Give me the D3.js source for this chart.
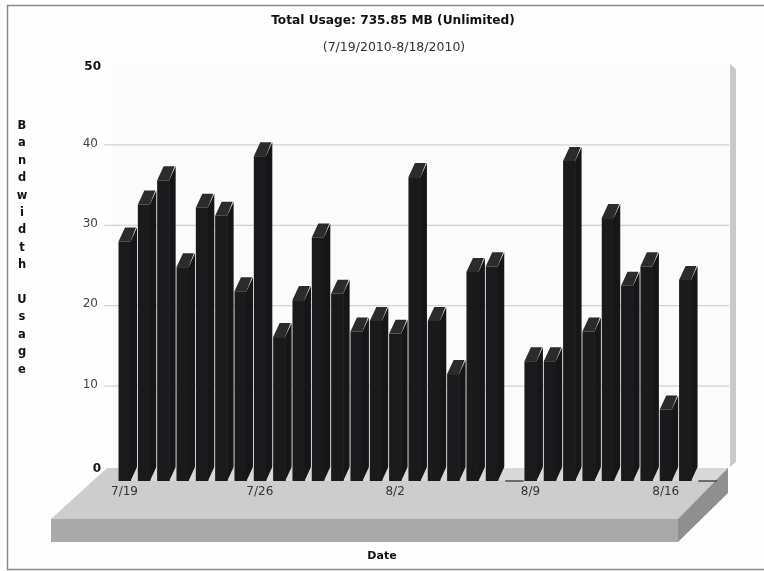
<!DOCTYPE html>
<html><head><meta charset="utf-8">
<script src="https://cdn.jsdelivr.net/npm/d3@7"></script>
<style>html,body{margin:0;padding:0;background:#fefefe}svg{display:block;filter:blur(0.5px)}text{font-family:"DejaVu Sans",sans-serif}</style>
</head><body><svg id="c" width="764" height="571"></svg>
<script>
const dates=["7/19","7/20","7/21","7/22","7/23","7/24","7/25","7/26","7/27","7/28","7/29","7/30","7/31","8/1","8/2","8/3","8/4","8/5","8/6","8/7","8/8","8/9","8/10","8/11","8/12","8/13","8/14","8/15","8/16","8/17","8/18"];
const usage=[29.8,34.4,37.4,26.6,34,33,23.6,40.4,17.9,22.5,30.3,23.3,18.6,19.9,18.3,37.8,19.9,13.3,26,26.7,0,14.9,14.9,39.8,18.6,32.7,24.3,26.7,8.9,25,0];
const labelledDates=["7/19","7/26","8/2","8/9","8/16"];
const yTicks=[0,10,20,30,40,50];
const titleText="Total Usage: 735.85 MB (Unlimited)";
const subtitleText="(7/19/2010-8/18/2010)";
const yTitle="Bandwidth Usage";
const xTitle="Date";

const svg=d3.select("#c");
const step=19.33,left=118.5,barW=12,dx=6.5,dy=14;
const x=d3.scalePoint().domain(dates).range([left,left+step*30]);
const y=d3.scaleLinear().domain([0,50]).range([467,65]);
const poly=p=>p.map(a=>a.join(",")).join(" ");

// frame
svg.append("path").attr("d","M764,5.5H7.5V569.5H764").attr("fill","none").attr("stroke","#8a8a8a").attr("stroke-width",1.5);

// back wall and right side
svg.append("rect").attr("x",112).attr("y",y(50)).attr("width",618).attr("height",y(0)-y(50)).attr("fill","#fbfbfb");
svg.append("polygon").attr("points",poly([[730,y(0)],[730,y(50)-1],[736,y(50)+4],[736,y(0)-5]])).attr("fill","#c9c9c9");

// floor
const fl={bl:[107,468],br:[728,468],fr:[678,519],fl:[51,519]};
svg.append("polygon").attr("points",poly([fl.bl,fl.br,fl.fr,fl.fl])).attr("fill","#cdcdcd");
svg.append("polygon").attr("points",poly([[118,468],fl.br,[714,481],[118,481]])).attr("fill","#d8d8d8");
svg.append("rect").attr("x",51).attr("y",519).attr("width",627).attr("height",23).attr("fill","#a9a9a9");
svg.append("polygon").attr("points",poly([fl.fr,fl.br,[728,493],[678,542]])).attr("fill","#8f8f8f");

// grid lines and y labels
const yAxis=svg.append("g").attr("transform","translate(105,0)")
  .call(d3.axisLeft(y).tickValues(yTicks).tickSize(0).tickPadding(7));
yAxis.select(".domain").remove();
yAxis.selectAll("text").attr("font-size",12)
  .attr("font-weight",d=>(d===0||d===50)?"bold":"normal")
  .attr("fill",d=>(d===0||d===50)?"#111":"#444")
  .attr("font-family",null)
  .attr("dx",d=>(d===0||d===50)?"3":"0")
  .attr("dy",d=>(d===0||d===50)?"0.4em":"0.05em");
svg.append("g").selectAll("line").data(yTicks.filter(d=>d>0&&d<50)).join("line")
  .attr("x1",104).attr("x2",729).attr("y1",d=>y(d)-0.5).attr("y2",d=>y(d)-0.5)
  .attr("stroke","#d2d2d2").attr("stroke-width",1.2);

// bars
const bars=svg.append("g").selectAll("g").data(dates.map((d,i)=>({d,v:usage[i]}))).join("g");
const base=y(0)+dy;
bars.filter(b=>b.v===0).append("line")
  .attr("x1",b=>x(b.d)).attr("x2",b=>x(b.d)+barW+dx).attr("y1",base).attr("y2",base)
  .attr("stroke","#333").attr("stroke-width",1.3);
const solid=bars.filter(b=>b.v>0);
solid.append("rect").attr("x",b=>x(b.d)).attr("y",b=>y(b.v)+dy).attr("width",barW+0.5).attr("height",b=>base-(y(b.v)+dy)).attr("fill","#1a1a1c");
solid.append("polygon").attr("fill","#161618").attr("points",b=>{const X=x(b.d)+barW,t=y(b.v)+dy;
  return poly([[X,t],[X+dx,t-dy],[X+dx,base-dy],[X,base]]);});
solid.append("polygon").attr("fill","#2b2b2d").attr("points",b=>{const X=x(b.d),t=y(b.v)+dy;
  return poly([[X,t],[X+dx,t-dy],[X+dx+barW-1,t-dy],[X+barW,t]]);});

// x labels
svg.append("g").selectAll("text").data(labelledDates).join("text")
  .attr("x",d=>x(d)+6).attr("y",495).attr("text-anchor","middle").attr("font-size",12).attr("fill","#333").text(d=>d);

// titles
svg.append("text").attr("x",393).attr("y",24).attr("text-anchor","middle").attr("font-size",12.2).attr("font-weight","bold").attr("fill","#111").text(titleText);
svg.append("text").attr("x",394).attr("y",51).attr("text-anchor","middle").attr("font-size",12.5).attr("fill","#333").text(subtitleText);
svg.append("text").attr("x",382).attr("y",559).attr("text-anchor","middle").attr("font-size",11).attr("font-weight","bold").attr("fill","#111").text(xTitle);
svg.append("g").selectAll("text").data(Array.from(yTitle)).join("text")
  .attr("x",22).attr("y",(d,i)=>129+i*17.4).attr("text-anchor","middle").attr("font-size",11.5).attr("font-weight","bold").attr("fill","#111").text(d=>d);
</script></body></html>
